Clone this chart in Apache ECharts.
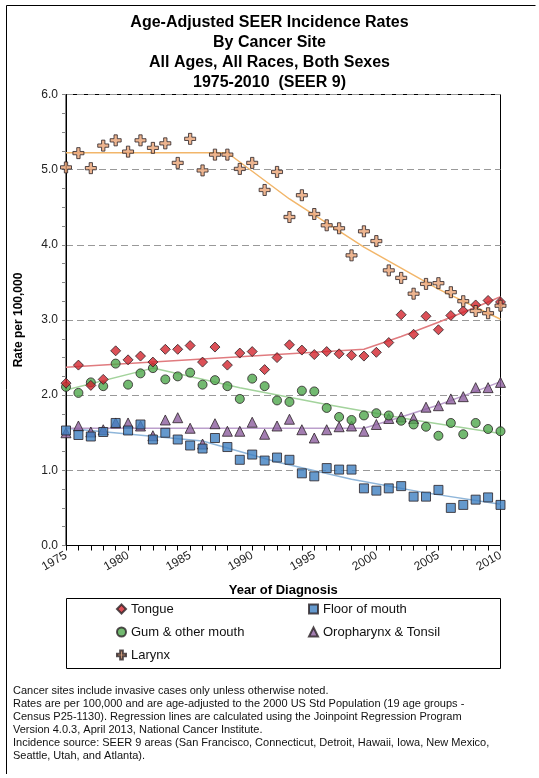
<!DOCTYPE html>
<html>
<head>
<meta charset="utf-8">
<script src="https://cdn.jsdelivr.net/npm/echarts@6/dist/echarts.min.js"></script>
<style>
  html, body { margin: 0; padding: 0; background: #fff; }
  #chart { width: 539px; height: 778px; }
</style>
</head>
<body>
<div id="chart"></div>
<script>
// Years of diagnosis
const years = [1975, 1976, 1977, 1978, 1979, 1980, 1981, 1982, 1983, 1984,
               1985, 1986, 1987, 1988, 1989, 1990, 1991, 1992, 1993, 1994,
               1995, 1996, 1997, 1998, 1999, 2000, 2001, 2002, 2003, 2004,
               2005, 2006, 2007, 2008, 2009, 2010];

// Observed age-adjusted rates per 100,000
const tongue = [2.16, 2.40, 2.13, 2.21, 2.59, 2.47, 2.52, 2.44, 2.61, 2.61,
                2.66, 2.44, 2.64, 2.40, 2.56, 2.58, 2.34, 2.50, 2.67, 2.60,
                2.54, 2.58, 2.55, 2.53, 2.52, 2.57, 2.70, 3.07, 2.81, 3.05,
                2.87, 3.06, 3.12, 3.20, 3.26, 3.24];
const floorMouth = [1.53, 1.47, 1.45, 1.51, 1.63, 1.53, 1.61, 1.41, 1.50, 1.41,
                    1.33, 1.29, 1.43, 1.31, 1.14, 1.21, 1.13, 1.17, 1.14, 0.96,
                    0.92, 1.03, 1.01, 1.01, 0.76, 0.73, 0.76, 0.79, 0.65, 0.65,
                    0.74, 0.50, 0.54, 0.61, 0.64, 0.54];
const gum = [2.11, 2.03, 2.17, 2.12, 2.42, 2.14, 2.29, 2.36, 2.21, 2.25,
             2.30, 2.14, 2.20, 2.12, 1.95, 2.22, 2.12, 1.93, 1.91, 2.06,
             2.05, 1.83, 1.71, 1.67, 1.73, 1.76, 1.73, 1.66, 1.61, 1.58,
             1.46, 1.63, 1.48, 1.63, 1.55, 1.52];
const oropharynx = [1.50, 1.59, 1.51, 1.54, 1.63, 1.63, 1.59, 1.46, 1.67, 1.70,
                    1.56, 1.35, 1.62, 1.52, 1.52, 1.64, 1.48, 1.59, 1.68, 1.54,
                    1.43, 1.54, 1.58, 1.59, 1.52, 1.61, 1.69, 1.71, 1.69, 1.84,
                    1.86, 1.95, 1.98, 2.10, 2.10, 2.17];
const larynx = [5.03, 5.22, 5.02, 5.32, 5.39, 5.24, 5.39, 5.29, 5.35, 5.09,
                5.41, 4.99, 5.20, 5.20, 5.01, 5.09, 4.73, 4.97, 4.37, 4.66,
                4.41, 4.26, 4.22, 3.86, 4.18, 4.05, 3.66, 3.56, 3.35, 3.48,
                3.49, 3.37, 3.25, 3.12, 3.09, 3.19];

// Joinpoint regression lines: [year, fitted rate]
const tongueFit = [[1975, 2.37], [1999, 2.61], [2002, 2.78], [2005, 2.97], [2008, 3.17], [2010, 3.31]];
const floorFit = [[1975, 1.56], [1986, 1.39], [1992, 1.11], [1998, 0.88], [2004, 0.70], [2010, 0.55]];
const gumFit = [[1975, 2.07], [1982, 2.36], [1989, 2.10], [1996, 1.875], [2003, 1.67], [2010, 1.49]];
const oroFit = [[1975, 1.56], [1999, 1.56], [2002, 1.71], [2005, 1.87], [2008, 2.05], [2010, 2.18]];
const larynxFit = [[1975, 5.225], [1988, 5.225], [1993, 4.61], [1999, 3.97], [2005, 3.41], [2010, 3.01]];

// Axis ticks
const yTicks = [0, 1, 2, 3, 4, 5, 6];
const xLabelStep = 5;

const FONT = '"Liberation Sans", Arial, sans-serif';
const plusPath = 'path://M3.5,0 H6.5 V3.5 H10 V6.5 H6.5 V10 H3.5 V6.5 H0 V3.5 H3.5 Z';

const pair = (vals) => years.map((y, i) => [y, vals[i]]);

function scatter(name, data, symbol, size, fill, z) {
  return {
    name, type: 'scatter', data: pair(data), symbol, symbolSize: size, z,
    itemStyle: { color: fill, borderColor: '#2a2226', borderWidth: 1 },
    emphasis: { disabled: true }
  };
}
function fitLine(name, data, color) {
  return {
    name, type: 'line', data, smooth: false, symbol: 'none', z: 1,
    lineStyle: { color, width: 1.5 }, emphasis: { disabled: true }
  };
}

const chart = echarts.init(document.getElementById('chart'), null, { renderer: 'canvas' });

const legendText = { fontFamily: FONT, fontSize: 13, color: '#111', lineHeight: 14 };

chart.setOption({
  animation: false,
  backgroundColor: '#fff',
  title: {
    text: 'Age-Adjusted SEER Incidence Rates\nBy Cancer Site\nAll Ages, All Races, Both Sexes\n1975-2010  (SEER 9)',
    left: 'center', top: 8,
    textStyle: { fontFamily: FONT, fontSize: 16, fontWeight: 'bold', color: '#000', lineHeight: 20 }
  },
  grid: {
    left: 66, right: 38.5, top: 94.5, bottom: 232.5,
    show: true, borderColor: '#000', borderWidth: 1, backgroundColor: 'transparent'
  },
  xAxis: {
    type: 'value', min: 1975, max: 2010, interval: 1,
    name: 'Year of Diagnosis', nameLocation: 'middle', nameGap: 38,
    nameTextStyle: { fontFamily: FONT, fontSize: 13, fontWeight: 'bold', color: '#000' },
    axisLine: { lineStyle: { color: '#000', width: 1 } },
    axisTick: { show: true, length: 5, lineStyle: { color: '#000' } },
    axisLabel: {
      rotate: 30, margin: 9, fontFamily: FONT, fontSize: 12, color: '#222',
      formatter: (v) => (v % xLabelStep === 0 ? String(v) : '')
    },
    splitLine: { show: false }
  },
  yAxis: {
    type: 'value', min: yTicks[0], max: yTicks[yTicks.length - 1], interval: 1,
    name: 'Rate per 100,000', nameLocation: 'middle', nameGap: 41,
    nameTextStyle: { fontFamily: FONT, fontSize: 12, fontWeight: 'bold', color: '#000' },
    axisLine: { lineStyle: { color: '#000', width: 1 } },
    axisTick: { show: true, length: 4, lineStyle: { color: '#888' } },
    minorTick: { show: true, splitNumber: 4, length: 4, lineStyle: { color: '#888' } },
    axisLabel: { margin: 8, fontFamily: FONT, fontSize: 12, color: '#222', formatter: (v) => v.toFixed(1) },
    splitLine: { show: true, lineStyle: { color: '#999', type: [7, 4], width: 1 } }
  },
  legend: [
    {
      data: ['Tongue', 'Gum & other mouth', 'Larynx'],
      orient: 'vertical', left: 116, top: 602, itemGap: 9, padding: 0,
      itemWidth: 9, itemHeight: 9, textStyle: legendText, selectedMode: false
    },
    {
      data: ['Floor of mouth', 'Oropharynx & Tonsil'],
      orient: 'vertical', left: 308, top: 602, itemGap: 9, padding: 0,
      itemWidth: 9, itemHeight: 9, textStyle: legendText, selectedMode: false
    }
  ],
  graphic: [
    { type: 'rect', shape: { x: 66.5, y: 598.5, width: 434, height: 70 }, style: { fill: 'none', stroke: '#000', lineWidth: 1 } },
    { type: 'polyline', shape: { points: [[6.5, 774], [6.5, 5.5], [535.5, 5.5]] }, style: { fill: 'none', stroke: '#000', lineWidth: 1 } },
    {
      type: 'text', left: 13, top: 684,
      style: {
        text: 'Cancer sites include invasive cases only unless otherwise noted.\n' +
              'Rates are per 100,000 and are age-adjusted to the 2000 US Std Population (19 age groups -\n' +
              'Census P25-1130). Regression lines are calculated using the Joinpoint Regression Program\n' +
              'Version 4.0.3, April 2013, National Cancer Institute.\n' +
              'Incidence source: SEER 9 areas (San Francisco, Connecticut, Detroit, Hawaii, Iowa, New Mexico,\n' +
              'Seattle, Utah, and Atlanta).',
        font: '11px ' + FONT, fill: '#111', lineHeight: 13
      }
    }
  ],
  series: [
    fitLine('Tongue trend', tongueFit, '#e07b7f'),
    fitLine('Floor of mouth trend', floorFit, '#8fb6da'),
    fitLine('Gum trend', gumFit, '#a3d39c'),
    fitLine('Oropharynx trend', oroFit, '#bb9fcc'),
    fitLine('Larynx trend', larynxFit, '#f2b66a'),
    scatter('Oropharynx & Tonsil', oropharynx, 'triangle', 10, '#8c5e9e', 2),
    scatter('Floor of mouth', floorMouth, 'rect', 9, '#3f7fc0', 3),
    scatter('Gum & other mouth', gum, 'circle', 9, '#4fa84c', 4),
    scatter('Tongue', tongue, 'diamond', 10, '#d3262e', 5),
    scatter('Larynx', larynx, plusPath, 11, '#e9a274', 6)
  ]
});
</script>
</body>
</html>
